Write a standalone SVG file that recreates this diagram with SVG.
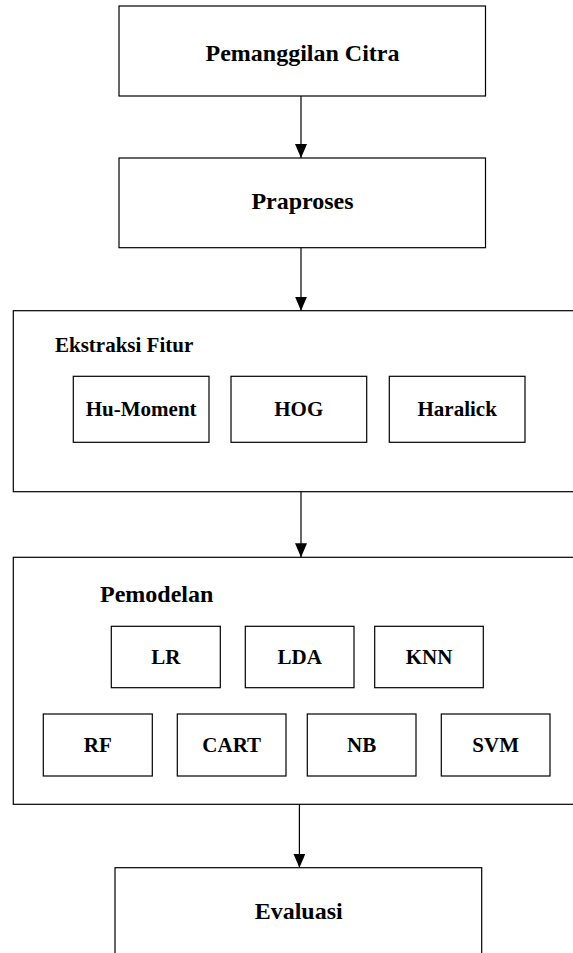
<svg xmlns="http://www.w3.org/2000/svg" width="573" height="953" viewBox="0 0 573 953">
<style>
.box{fill:#fff;stroke:#000;stroke-width:1.2}
.conn{stroke:#000;stroke-width:1.2;fill:none}
</style>
<defs>
<marker id="arr" viewBox="0 0 14 12" refX="14" refY="6" markerWidth="14" markerHeight="12" markerUnits="userSpaceOnUse" orient="auto">
<path d="M0,0 L14,6 L0,12 z" fill="#000"/>
</marker>
</defs>
<g id="pemanggilan">
<rect class="box" x="119" y="6" width="366.5" height="90"/>
<text x="302.5" y="60.5" font-family="Liberation Serif" font-weight="bold" font-size="24" text-anchor="middle">Pemanggilan Citra</text>
</g>
<g id="praproses">
<rect class="box" x="119" y="158" width="366.5" height="89.7"/>
<text x="302.5" y="209.3" font-family="Liberation Serif" font-weight="bold" font-size="24" text-anchor="middle">Praproses</text>
</g>
<g id="ekstraksi">
<rect class="box" x="13.3" y="310.7" width="570" height="181"/>
<text x="55" y="351.7" font-family="Liberation Serif" font-weight="bold" font-size="21">Ekstraksi Fitur</text>
</g>
<g id="hu">
<rect class="box" x="73.3" y="376.3" width="135.7" height="66"/>
<text x="141.2" y="416" font-family="Liberation Serif" font-weight="bold" font-size="21" text-anchor="middle">Hu-Moment</text>
</g>
<g id="hog">
<rect class="box" x="231" y="376.3" width="135.7" height="66"/>
<text x="298.8" y="416" font-family="Liberation Serif" font-weight="bold" font-size="21" text-anchor="middle">HOG</text>
</g>
<g id="haralick">
<rect class="box" x="389.3" y="376.3" width="135.7" height="66"/>
<text x="457.2" y="416" font-family="Liberation Serif" font-weight="bold" font-size="21" text-anchor="middle">Haralick</text>
</g>
<g id="pemodelan">
<rect class="box" x="13.3" y="557.3" width="570" height="247"/>
<text x="100" y="602.3" font-family="Liberation Serif" font-weight="bold" font-size="24">Pemodelan</text>
</g>
<g id="lr">
<rect class="box" x="111.3" y="626.3" width="109" height="61.4"/>
<text x="165.8" y="664" font-family="Liberation Serif" font-weight="bold" font-size="21" text-anchor="middle">LR</text>
</g>
<g id="lda">
<rect class="box" x="245.3" y="626.3" width="108.7" height="61.4"/>
<text x="299.7" y="664" font-family="Liberation Serif" font-weight="bold" font-size="21" text-anchor="middle">LDA</text>
</g>
<g id="knn">
<rect class="box" x="374.7" y="626.3" width="108.6" height="61.4"/>
<text x="429" y="664" font-family="Liberation Serif" font-weight="bold" font-size="21" text-anchor="middle">KNN</text>
</g>
<g id="rf">
<rect class="box" x="43.3" y="714" width="109" height="62"/>
<text x="97.8" y="752" font-family="Liberation Serif" font-weight="bold" font-size="21" text-anchor="middle">RF</text>
</g>
<g id="cart">
<rect class="box" x="177.3" y="714" width="108.7" height="62"/>
<text x="231.7" y="752" font-family="Liberation Serif" font-weight="bold" font-size="21" text-anchor="middle">CART</text>
</g>
<g id="nb">
<rect class="box" x="307.3" y="714" width="108.7" height="62"/>
<text x="361.7" y="752" font-family="Liberation Serif" font-weight="bold" font-size="21" text-anchor="middle">NB</text>
</g>
<g id="svm">
<rect class="box" x="441.3" y="714" width="108.7" height="62"/>
<text x="495.7" y="752" font-family="Liberation Serif" font-weight="bold" font-size="21" text-anchor="middle">SVM</text>
</g>
<g id="evaluasi">
<rect class="box" x="115" y="867.7" width="366.7" height="100"/>
<text x="298.7" y="919" font-family="Liberation Serif" font-weight="bold" font-size="24" text-anchor="middle">Evaluasi</text>
</g>
<g id="connectors">
<line class="conn" x1="301" y1="96" x2="301" y2="158" marker-end="url(#arr)"/>
<line class="conn" x1="301" y1="247.7" x2="301" y2="310.7" marker-end="url(#arr)"/>
<line class="conn" x1="301" y1="491.7" x2="301" y2="557.3" marker-end="url(#arr)"/>
<line class="conn" x1="299.4" y1="804.3" x2="299.4" y2="867.7" marker-end="url(#arr)"/>
</g>
</svg>
